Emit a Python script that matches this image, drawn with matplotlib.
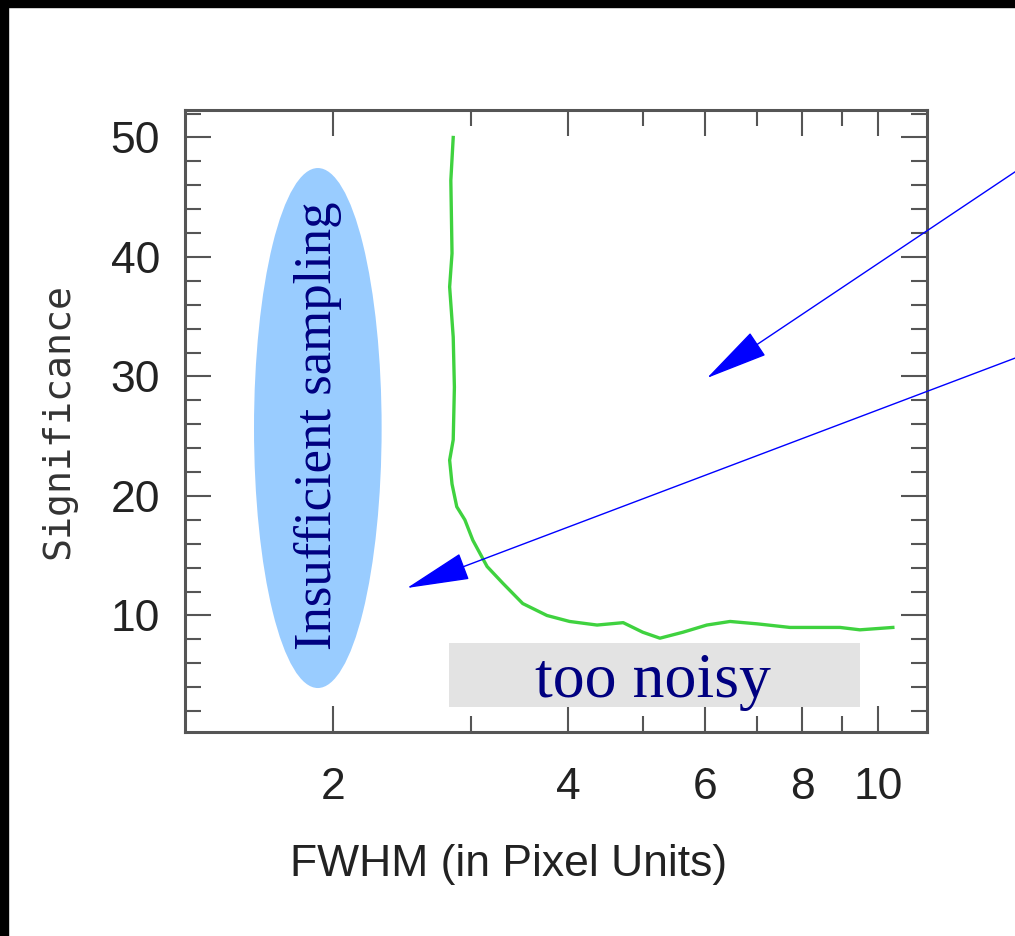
import matplotlib
matplotlib.use('Agg')
import matplotlib.pyplot as plt
from matplotlib.patches import Ellipse, Rectangle
from matplotlib.ticker import FixedLocator, NullFormatter

# data
fwhm = [2.85, 2.83, 2.84, 2.82, 2.85, 2.86, 2.85, 2.82, 2.84, 2.88, 2.95, 3.02, 3.15,
        3.30, 3.50, 3.76, 4.02, 4.36, 4.71, 4.99, 5.25, 5.62, 6.03, 6.46, 7.00, 7.71,
        8.94, 9.48, 10.45]
significance = [50.0, 46.4, 40.3, 37.5, 33.3, 29.1, 24.7, 23.0, 21.0, 19.1, 18.0, 16.3, 14.1,
                12.7, 11.0, 10.0, 9.5, 9.2, 9.4, 8.6, 8.1, 8.6, 9.2, 9.5, 9.3, 9.0,
                9.0, 8.8, 9.0]
x_major = [2, 4, 6, 8, 10]
x_minor = [3, 5, 7, 9]
y_major = [10, 20, 30, 40, 50]
y_minor = [2, 4, 6, 8, 12, 14, 16, 18, 22, 24, 26, 28, 32, 34, 36, 38, 42, 44, 46, 48, 52]

axis_col = '#555555'
navy = '#000080'

fig = plt.figure(figsize=(10.15, 9.36), dpi=100)
ax = fig.add_axes([185 / 1015, 1 - 732 / 936, 742 / 1015, 622 / 936])

# black edges of the screenshot
fig.patches.append(Rectangle((0, 0), 8 / 1015, 1, transform=fig.transFigure,
                             color='black', zorder=0))
fig.patches.append(Rectangle((0, 1 - 7 / 936), 1, 7 / 936, transform=fig.transFigure,
                             color='black', zorder=0))

ax.plot(fwhm, significance, color='#3fd23f', lw=2.4, zorder=3)

ax.set_xscale('log')
ax.set_xlim(1.29, 11.56)
ax.set_ylim(0.25, 52.3)

ax.xaxis.set_major_locator(FixedLocator(x_major))
ax.xaxis.set_minor_locator(FixedLocator(x_minor))
ax.set_xticklabels([str(v) for v in x_major])
ax.xaxis.set_minor_formatter(NullFormatter())
ax.yaxis.set_major_locator(FixedLocator(y_major))
ax.yaxis.set_minor_locator(FixedLocator(y_minor))

for s in ax.spines.values():
    s.set_color(axis_col)
    s.set_linewidth(2.2)

ax.tick_params(which='both', direction='in', top=True, right=True,
               color=axis_col, width=1.5, labelcolor='#222222')
ax.tick_params(which='major', length=19)
ax.tick_params(which='minor', length=11.5)
ax.tick_params(axis='x', which='major', pad=25, labelsize=32)
ax.tick_params(axis='y', which='major', pad=18, labelsize=32)
for lab in ax.get_xticklabels() + ax.get_yticklabels():
    lab.set_family('Liberation Sans')

ax.set_xlabel('FWHM (in Pixel Units)', fontsize=32, family='Liberation Sans', color='#222222')
ax.xaxis.label.set_va('baseline')
ax.xaxis.set_label_coords((509 - 185) / 742, (732 - 876) / 622)
ax.set_ylabel('Significance', fontsize=27.5, family='DejaVu Sans Mono', color='#333333')
ax.yaxis.set_label_coords(-0.147, 0.5)

# "Insufficient sampling" ellipse
ax.add_patch(Ellipse((0.179, 0.4887), 0.172, 0.836, transform=ax.transAxes,
                     facecolor='#99ccff', edgecolor='none', zorder=2))
ax.text(0.179, 0.492, 'Insufficient sampling', transform=ax.transAxes, rotation=90,
        ha='center', va='center', fontsize=38, family='Liberation Serif', color=navy, zorder=4)

# "too noisy" box
ax.add_patch(Rectangle((0.3558, 0.0402), 0.5539, 0.1029, transform=ax.transAxes,
                       facecolor='#e3e3e3', edgecolor='none', zorder=2))
ax.text(0.6307, 0.0563, 'too noisy', transform=ax.transAxes, ha='center', va='baseline',
        fontsize=46, family='Liberation Serif', color=navy, zorder=4)

# arrows coming in from the right
arrow = dict(arrowstyle='-|>,head_length=41,head_width=9', mutation_scale=1,
             color='#0000ff', lw=1.0, shrinkA=0, shrinkB=0)
ax.annotate('', xy=(0.7035, 0.5691), xycoords='axes fraction',
            xytext=(1.0837, 0.8771), textcoords='figure fraction',
            arrowprops=arrow, zorder=5, annotation_clip=False)
ax.annotate('', xy=(0.2992, 0.2315), xycoords='axes fraction',
            xytext=(1.0837, 0.6517), textcoords='figure fraction',
            arrowprops=arrow, zorder=5, annotation_clip=False)

fig.savefig('out.png', dpi=100, facecolor='white')
